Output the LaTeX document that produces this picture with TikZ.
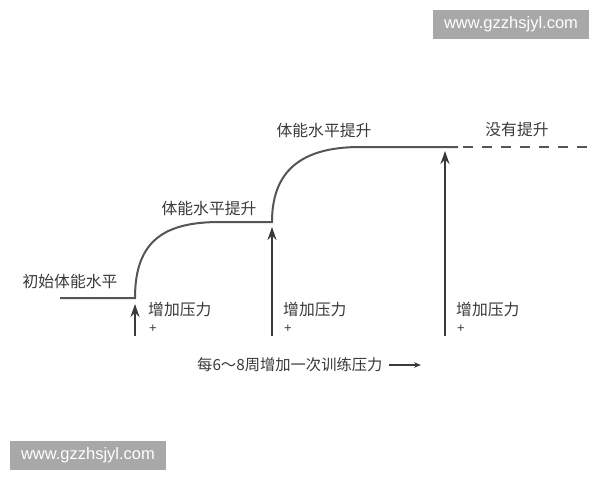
\documentclass[tikz,border=0pt]{standalone}
\usepackage{fontspec}
\setmainfont{Liberation Sans}
\newfontfamily\cjk{Noto Sans CJK SC}
\usetikzlibrary{arrows.meta}
\definecolor{txt}{HTML}{3A3A3A}
\definecolor{ln}{HTML}{555555}
\definecolor{wm}{HTML}{A8A8A8}
\begin{document}
\begin{tikzpicture}[x=1pt,y=-1pt,
  lbl/.style={font=\cjk\fontsize{15.8}{17}\selectfont, text=txt, inner sep=0pt},
  plus/.style={font=\fontsize{13}{14}\selectfont, text=txt, inner sep=0pt},
  curve/.style={draw=ln, line width=2pt},
  push/.style={draw=txt, line width=2pt, -{Stealth[length=13pt,width=9pt]}},
  wmbox/.style={fill=wm, text=white, font=\fontsize{16.5}{18}\selectfont, minimum width=156pt, minimum height=29pt, inner sep=0pt}]
\useasboundingbox (0,0) rectangle (600,480);
\fill[white] (0,0) rectangle (600,480);
% watermarks
\node[wmbox] (wm1) at (511,24.5) {www.gzzhsjyl.com};
\node[wmbox] (wm2) at (88,455) {www.gzzhsjyl.com};
% level curve
\coordinate (s0) at (60,298);
\coordinate (s1) at (135,298);
\coordinate (s2) at (220,222);
\coordinate (s3) at (272,222);
\coordinate (s4) at (360,147);
\coordinate (s5) at (458,147);
\coordinate (s6) at (592,147);
\draw[curve] (s0) -- (s1) .. controls (135,240) and (165,222) .. (s2) -- (s3)
  .. controls (272,172) and (300,147) .. (s4) -- (s5);
\draw[curve, dash pattern=on 10pt off 9pt] ([xshift=5pt]s5) -- (s6);
% stress arrows
\coordinate (a1b) at (135,336);
\coordinate (a1t) at (135,304);
\coordinate (a2b) at (272,336);
\coordinate (a2t) at (272,227);
\coordinate (a3b) at (445,336);
\coordinate (a3t) at (445,151);
\draw[push] (a1b) -- (a1t);
\draw[push] (a2b) -- (a2t);
\draw[push] (a3b) -- (a3t);
% labels
\node[lbl] (l0) at (70,281) {初始体能水平};
\node[lbl] (l1) at (209,208) {体能水平提升};
\node[lbl] (l2) at (324,130) {体能水平提升};
\node[lbl] (l3) at (517,130) {没有提升};
\node[lbl, anchor=west] (p1) at (148,310) {增加压力};
\node[plus] (q1) at (153,329) {+};
\node[lbl, anchor=west] (p2) at (283,310) {增加压力};
\node[plus] (q2) at (288,329) {+};
\node[lbl, anchor=west] (p3) at (456,310) {增加压力};
\node[plus] (q3) at (461,329) {+};
\node[lbl, anchor=west, font=\cjk\fontsize{15.3}{17}\selectfont] (bt) at (197,365) {每6～8周增加一次训练压力};
\coordinate (ba) at (421,365);
\draw[draw=txt, line width=2pt, -{Stealth[length=7pt,width=5.5pt]}] (bt.east) ++(6pt,0) coordinate (bs) (bs) -- (ba);
\end{tikzpicture}
\end{document}
